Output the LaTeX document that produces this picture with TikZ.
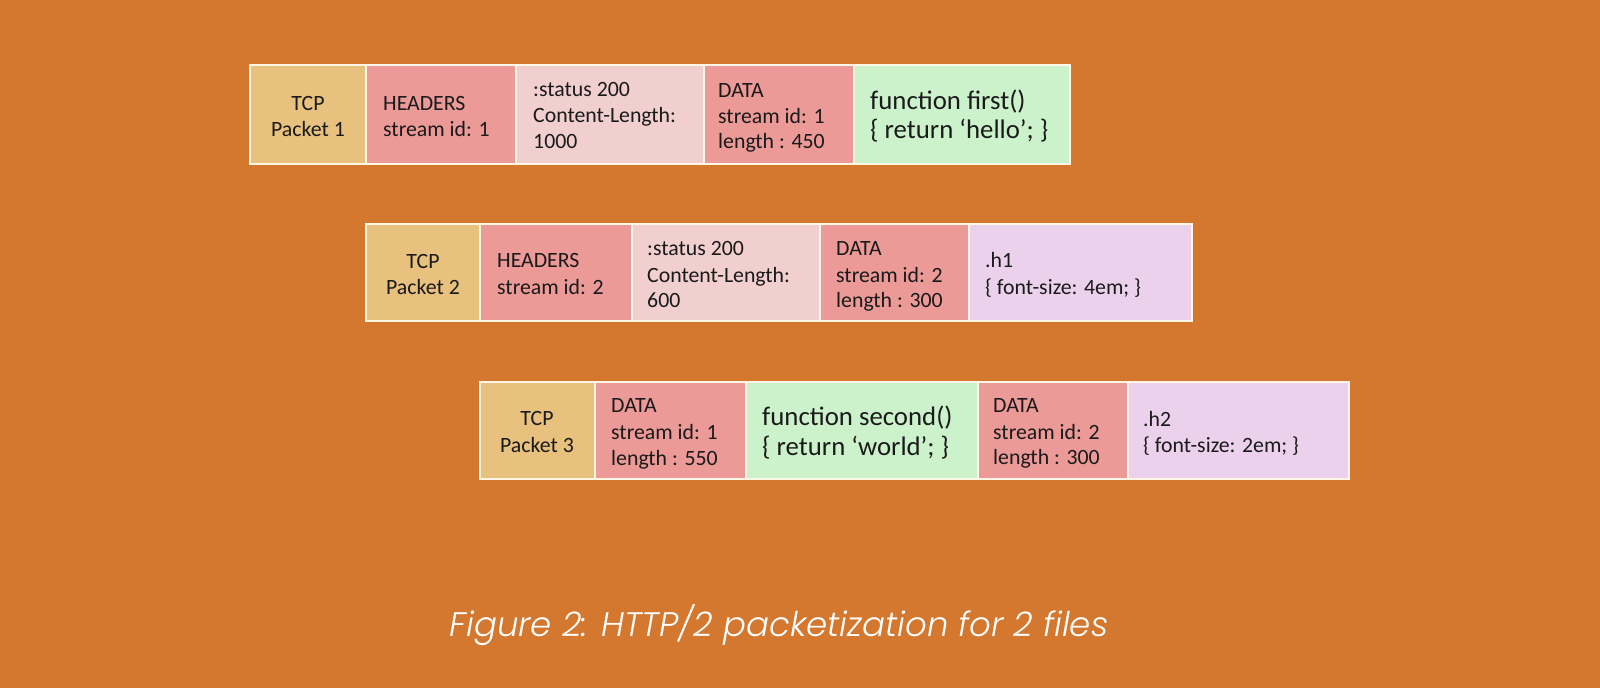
\documentclass[tikz,border=0pt]{standalone}
\usepackage{fontspec}
\setmainfont{Carlito}
\newfontfamily\capfont{Poppins}[UprightFont={* Light}, ItalicFont={* Light Italic}]
\definecolor{bgc}{HTML}{D4782F}
\definecolor{tcpc}{HTML}{E8C17E}
\definecolor{redc}{HTML}{EB9A98}
\definecolor{pinkc}{HTML}{F2CFCF}
\definecolor{greenc}{HTML}{CCF2CC}
\definecolor{purpc}{HTML}{EBD1EB}
\definecolor{edgec}{HTML}{FFF6E6}
\definecolor{txtc}{HTML}{1A1A1A}
\tikzset{
  cell/.style={draw=edgec, line width=1.6pt},
  ln/.style={anchor=base west, inner sep=0pt, text=txtc, font=\fontsize{21.8}{26}\selectfont},
  lnc/.style={anchor=base, inner sep=0pt, text=txtc, font=\fontsize{21.8}{26}\selectfont},
  lnb/.style={anchor=base west, inner sep=0pt, text=txtc, font=\fontsize{26.8}{31}\selectfont},
  lns/.style={anchor=base west, inner sep=0pt, text=txtc, font=\fontsize{21.8}{26}\selectfont},
}
\begin{document}
\begin{tikzpicture}[x=1pt,y=-1pt]
\fill[bgc] (0,0) rectangle (1600,688);
\useasboundingbox (0,0) rectangle (1600,688);
% Row 1
\path[cell, fill=tcpc]   (250,65) rectangle (366,164);
\node[lnc] (r1t1) at (308,110) {TCP};
\node[lnc] (r1t2) at (308,136) {Packet 1};
\path[cell, fill=redc]   (366,65) rectangle (516,164);
\node[ln] (r1h1) at (383,110) {HEADERS};
\node[ln] (r1h2) at (383,136) {stream id: 1};
\path[cell, fill=pinkc]  (516,65) rectangle (704,164);
\node[ln] (r1s1) at (533,96) {:status 200};
\node[ln] (r1s2) at (533,122) {Content-Length:};
\node[ln] (r1s3) at (533,148) {1000};
\path[cell, fill=redc]   (704,65) rectangle (854,164);
\node[ln] (r1d1) at (718,97) {DATA};
\node[ln] (r1d2) at (718,123) {stream id: 1};
\node[ln] (r1d3) at (718,148) {length : 450};
\path[cell, fill=greenc] (854,65) rectangle (1070,164);
\node[lnb] (r1f1) at (870,109) {function first()};
\node[lnb] (r1f2) at (870,138) {\{ return ‘hello’; \}};
% Row 2
\path[cell, fill=tcpc]   (366,224) rectangle (480,321);
\node[lnc] (r2t1) at (423,268) {TCP};
\node[lnc] (r2t2) at (423,294) {Packet 2};
\path[cell, fill=redc]   (480,224) rectangle (632,321);
\node[ln] (r2h1) at (497,267) {HEADERS};
\node[ln] (r2h2) at (497,294) {stream id: 2};
\path[cell, fill=pinkc]  (632,224) rectangle (820,321);
\node[ln] (r2s1) at (647,255) {:status 200};
\node[ln] (r2s2) at (647,282) {Content-Length:};
\node[ln] (r2s3) at (647,307) {600};
\path[cell, fill=redc]   (820,224) rectangle (969,321);
\node[ln] (r2d1) at (836,255) {DATA};
\node[ln] (r2d2) at (836,282) {stream id: 2};
\node[ln] (r2d3) at (836,307) {length : 300};
\path[cell, fill=purpc]  (969,224) rectangle (1192,321);
\node[lns] (r2c1) at (985,267) {.h1};
\node[lns] (r2c2) at (985,294) {\{ font-size: 4em; \}};
% Row 3
\path[cell, fill=tcpc]   (480,382) rectangle (595,479);
\node[lnc] (r3t1) at (537,425) {TCP};
\node[lnc] (r3t2) at (537,452) {Packet 3};
\path[cell, fill=redc]   (595,382) rectangle (746,479);
\node[ln] (r3d1) at (611,412) {DATA};
\node[ln] (r3d2) at (611,439) {stream id: 1};
\node[ln] (r3d3) at (611,465) {length : 550};
\path[cell, fill=greenc] (746,382) rectangle (978,479);
\node[lnb] (r3f1) at (762,425) {function second()};
\node[lnb] (r3f2) at (762,455) {\{ return ‘world’; \}};
\path[cell, fill=redc]   (978,382) rectangle (1128,479);
\node[ln] (r3e1) at (993,412) {DATA};
\node[ln] (r3e2) at (993,439) {stream id: 2};
\node[ln] (r3e3) at (993,464) {length : 300};
\path[cell, fill=purpc]  (1128,382) rectangle (1349,479);
\node[lns] (r3c1) at (1143,426) {.h2};
\node[lns] (r3c2) at (1143,452) {\{ font-size: 2em; \}};
% Caption
\node[anchor=base, inner sep=0pt, text=white, font=\capfont\itshape\fontsize{34}{40}\selectfont] (cap) at (779,636) {Figure 2: HTTP/2 packetization for 2 files};
\end{tikzpicture}
\end{document}
